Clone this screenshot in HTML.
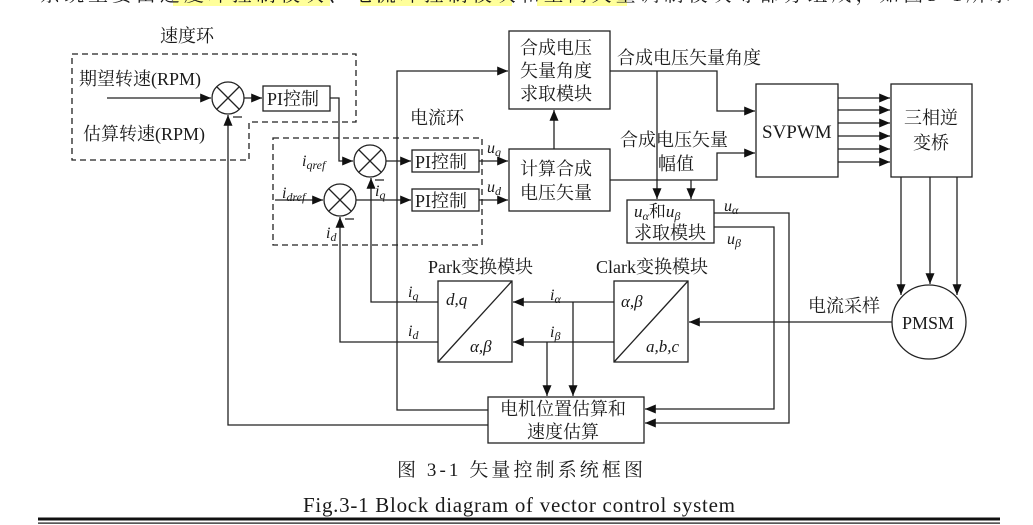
<!DOCTYPE html>
<html><head><meta charset="utf-8"><style>
html,body{margin:0;padding:0;background:#fff;}
svg{display:block;}
text,tspan{font-family:"Liberation Serif","Noto Serif CJK SC",serif;fill:#1a1a1a;}
.c{font-size:18px;}
.i{font-style:italic;}
</style></head><body>
<svg width="1033" height="525" viewBox="0 0 1033 525" xmlns="http://www.w3.org/2000/svg">
<defs>
<marker id="a" viewBox="0 0 12 10" refX="12" refY="5" markerWidth="12" markerHeight="9" orient="auto" markerUnits="userSpaceOnUse"><path d="M0,0L12,5L0,10z" fill="#111"/></marker>
</defs>
<rect x="173" y="0" width="157" height="6" fill="#ffff9a"/>
<rect x="360" y="0" width="152" height="6" fill="#ffff9a"/>
<rect x="537" y="0" width="90" height="6" fill="#ffff9a"/>
<text x="40" y="1" font-size="20" textLength="970" fill="#333">系统主要由速度环控制模块、电流环控制模块和空间矢量调制模块等部分组成，如图3-1所示</text>

<g stroke="#222" stroke-width="1.3" fill="none">
<path d="M72,54H356V122H249V160H72Z" stroke-dasharray="6,4"/>
<rect x="273" y="138" width="209" height="107" stroke-dasharray="6,4"/>
<circle cx="228" cy="98" r="16"/><path d="M217,87L239,109M239,87L217,109"/>
<circle cx="370" cy="161" r="16"/><path d="M359,150L381,172M381,150L359,172"/>
<circle cx="340" cy="200" r="16"/><path d="M329,189L351,211M351,189L329,211"/>
<rect x="263" y="86" width="67" height="25"/>
<rect x="412" y="150" width="67" height="22"/>
<rect x="412" y="189" width="67" height="22"/>
<rect x="509" y="31" width="101" height="78"/>
<rect x="509" y="149" width="101" height="62"/>
<rect x="756" y="84" width="82" height="93"/>
<rect x="891" y="84" width="81" height="93"/>
<rect x="627" y="200" width="87" height="43"/>
<rect x="438" y="281" width="74" height="81"/><path d="M438,362L512,281"/>
<rect x="614" y="281" width="74" height="81"/><path d="M614,362L688,281"/>
<rect x="488" y="397" width="156" height="46"/>
<circle cx="929" cy="322" r="37"/>
<path d="M107,98H211" marker-end="url(#a)"/>
<path d="M244,98H262" marker-end="url(#a)"/>
<path d="M330,98H339V161H353" marker-end="url(#a)"/>
<path d="M386,161H411" marker-end="url(#a)"/>
<path d="M275,200H323" marker-end="url(#a)"/>
<path d="M356,200H411" marker-end="url(#a)"/>
<path d="M479,161H508" marker-end="url(#a)"/>
<path d="M479,200H508" marker-end="url(#a)"/>
<path d="M554,149V110" marker-end="url(#a)"/>
<path d="M488,410H397V71H508" marker-end="url(#a)"/>
<path d="M488,425H228V115" marker-end="url(#a)"/>
<path d="M610,71H717V111H755" marker-end="url(#a)"/>
<path d="M610,180H717V153H755" marker-end="url(#a)"/>
<path d="M657,71V199" marker-end="url(#a)"/>
<path d="M691,180V199" marker-end="url(#a)"/>
<path d="M838,98H890" marker-end="url(#a)"/>
<path d="M838,110H890" marker-end="url(#a)"/>
<path d="M838,123H890" marker-end="url(#a)"/>
<path d="M838,136H890" marker-end="url(#a)"/>
<path d="M838,149H890" marker-end="url(#a)"/>
<path d="M838,162H890" marker-end="url(#a)"/>
<path d="M901,177V295" marker-end="url(#a)"/>
<path d="M930,177V284" marker-end="url(#a)"/>
<path d="M957,177V295" marker-end="url(#a)"/>
<path d="M892,322H689" marker-end="url(#a)"/>
<path d="M714,213H789V423H645" marker-end="url(#a)"/>
<path d="M714,227H774V409H645" marker-end="url(#a)"/>
<path d="M614,302H513" marker-end="url(#a)"/>
<path d="M614,342H513" marker-end="url(#a)"/>
<path d="M573,302V396" marker-end="url(#a)"/>
<path d="M547,342V396" marker-end="url(#a)"/>
<path d="M438,302H371V178" marker-end="url(#a)"/>
<path d="M438,342H340V217" marker-end="url(#a)"/>
</g>
<g stroke="#222" stroke-width="1.2"><path d="M233,117H242M375,180H384M345,219H354"/></g>

<text class="c" x="160" y="42">速度环</text>
<text class="c" x="79" y="85">期望转速(RPM)</text>
<text class="c" x="83" y="140">估算转速(RPM)</text>
<text class="c" x="267" y="105" font-size="17">PI控制</text>
<text class="c" x="410" y="124">电流环</text>
<text class="c" x="415" y="168" font-size="17">PI控制</text>
<text class="c" x="415" y="207" font-size="17">PI控制</text>
<text class="i" x="302" y="166" font-size="16">i<tspan class="i" font-size="12" dy="3">qref</tspan></text>
<text class="i" x="282" y="198" font-size="16">i<tspan class="i" font-size="12" dy="3">dref</tspan></text>
<text class="i" x="375" y="196" font-size="16">i<tspan class="i" font-size="12" dy="3">q</tspan></text>
<text class="i" x="326" y="238" font-size="16">i<tspan class="i" font-size="12" dy="3">d</tspan></text>
<text class="i" x="487" y="153" font-size="16">u<tspan class="i" font-size="12" dy="3">q</tspan></text>
<text class="i" x="487" y="192" font-size="16">u<tspan class="i" font-size="12" dy="3">d</tspan></text>
<text class="c" x="520" y="54">合成电压</text>
<text class="c" x="520" y="77">矢量角度</text>
<text class="c" x="520" y="100">求取模块</text>
<text class="c" x="520" y="175">计算合成</text>
<text class="c" x="520" y="199">电压矢量</text>
<text class="c" x="617" y="64">合成电压矢量角度</text>
<text class="c" x="620" y="146">合成电压矢量</text>
<text class="c" x="658" y="170">幅值</text>
<text x="762" y="138" font-size="19">SVPWM</text>
<text class="c" x="904" y="124">三相逆</text>
<text class="c" x="913" y="149">变桥</text>
<text x="634" y="217" font-size="17"><tspan class="i">u</tspan><tspan class="i" font-size="12" dy="3">α</tspan><tspan dy="-3">和</tspan><tspan class="i">u</tspan><tspan class="i" font-size="12" dy="3">β</tspan></text>
<text class="c" x="634" y="239">求取模块</text>
<text class="i" x="724" y="211" font-size="16">u<tspan class="i" font-size="12" dy="3">α</tspan></text>
<text class="i" x="727" y="244" font-size="16">u<tspan class="i" font-size="12" dy="3">β</tspan></text>
<text class="c" x="428" y="273" font-size="17">Park变换模块</text>
<text class="c" x="596" y="273" font-size="17">Clark变换模块</text>
<text class="i" x="408" y="297" font-size="16">i<tspan class="i" font-size="12" dy="3">q</tspan></text>
<text class="i" x="408" y="336" font-size="16">i<tspan class="i" font-size="12" dy="3">d</tspan></text>
<text class="i" x="550" y="300" font-size="16">i<tspan class="i" font-size="12" dy="3">α</tspan></text>
<text class="i" x="550" y="337" font-size="16">i<tspan class="i" font-size="12" dy="3">β</tspan></text>
<text class="i" x="446" y="305" font-size="17">d,q</text>
<text class="i" x="470" y="352" font-size="17">α,β</text>
<text class="i" x="621" y="307" font-size="17">α,β</text>
<text class="i" x="646" y="352" font-size="17">a,b,c</text>
<text class="c" x="808" y="312">电流采样</text>
<text x="902" y="329" font-size="18">PMSM</text>
<text class="c" x="500" y="415">电机位置估算和</text>
<text class="c" x="527" y="438">速度估算</text>
<text x="397" y="476" font-size="19" textLength="246">图 3-1 矢量控制系统框图</text>
<text x="303" y="512" font-size="21" textLength="432">Fig.3-1 Block diagram of vector control system</text>
<rect x="38" y="517.5" width="962" height="3" fill="#111"/>
<rect x="38" y="522.5" width="962" height="1.2" fill="#111"/>
</svg>
</body></html>
